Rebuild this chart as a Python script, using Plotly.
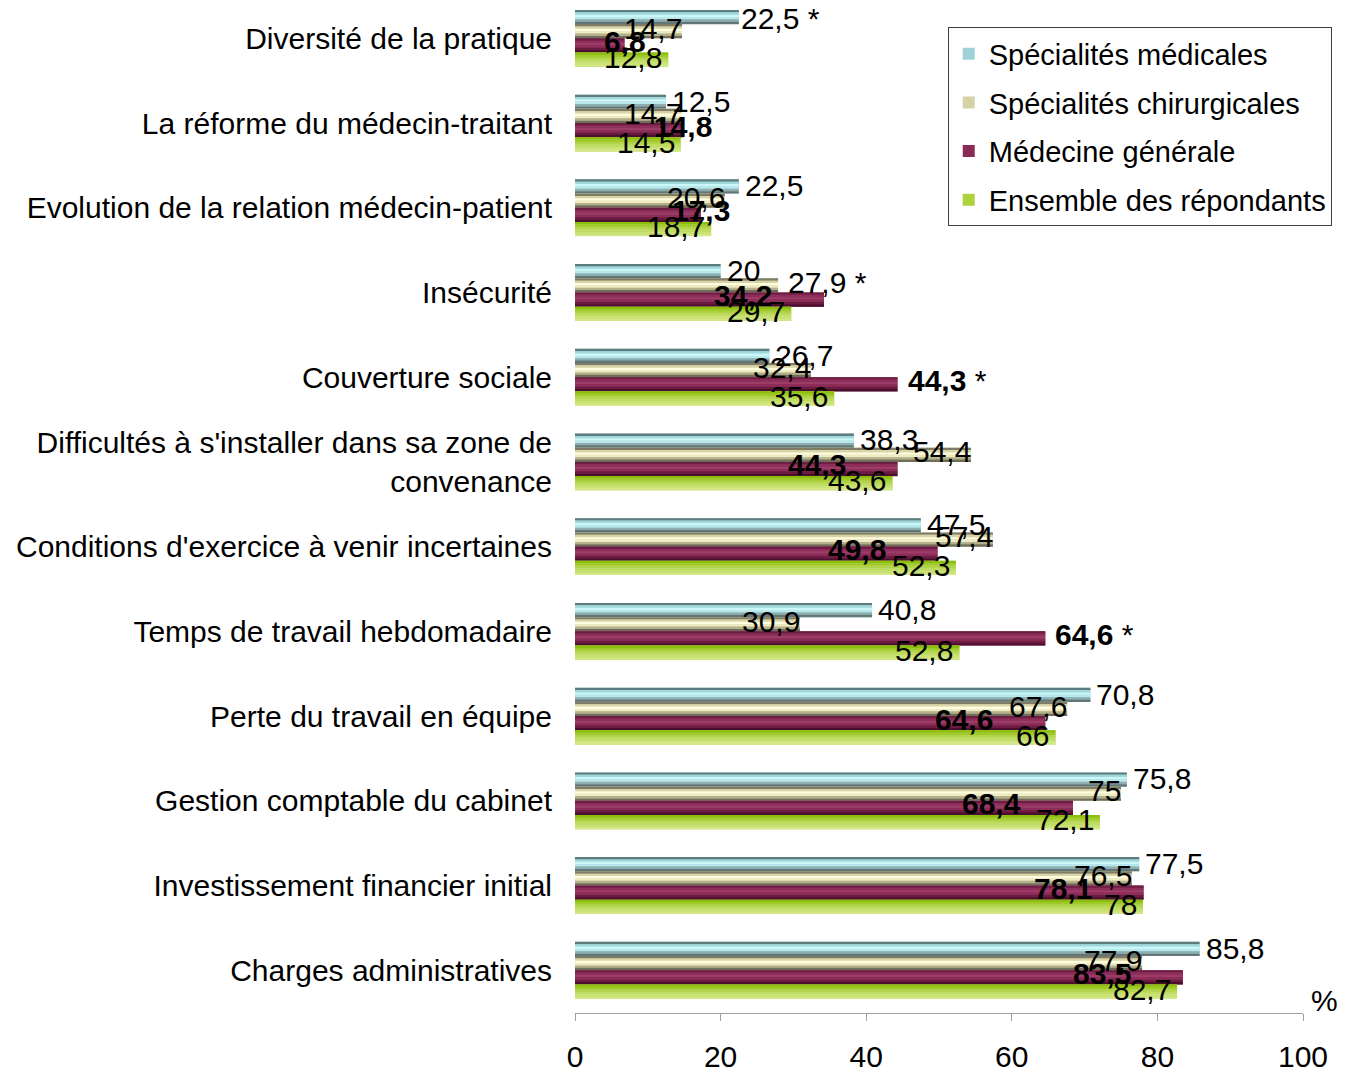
import plotly.graph_objects as go

categories = [
    "Diversité de la pratique",
    "La réforme du médecin-traitant",
    "Evolution de la relation médecin-patient",
    "Insécurité",
    "Couverture sociale",
    "Difficultés à s'installer dans sa zone de<br>convenance",
    "Conditions d'exercice à venir incertaines",
    "Temps de travail hebdomadaire",
    "Perte du travail en équipe",
    "Gestion comptable du cabinet",
    "Investissement financier initial",
    "Charges administratives",
]
series_names = [
    "Spécialités médicales",
    "Spécialités chirurgicales",
    "Médecine générale",
    "Ensemble des répondants",
]
spec_med = [22.5, 12.5, 22.5, 20, 26.7, 38.3, 47.5, 40.8, 70.8, 75.8, 77.5, 85.8]
spec_chir = [14.7, 14.7, 20.6, 27.9, 32.4, 54.4, 57.4, 30.9, 67.6, 75, 76.5, 77.9]
med_gen = [6.8, 14.8, 17.3, 34.2, 44.3, 44.3, 49.8, 64.6, 64.6, 68.4, 78.1, 83.5]
ensemble = [12.8, 14.5, 18.7, 29.7, 35.6, 43.6, 52.3, 52.8, 66, 72.1, 78, 82.7]
# significance stars: (series index, category index)
stars = [(0, 0), (1, 3), (2, 4), (2, 7)]
x_ticks = [0, 20, 40, 60, 80, 100]

values = [spec_med, spec_chir, med_gen, ensemble]
base_colors = ["#9ED2D6", "#D6D2A6", "#8A2A56", "#ADD23C"]
band_colors = [
    ["#5E7C7E", "#A0D8DC", "#CBF7F9", "#B8E8EC", "#8EAEB0", "#627677"],
    ["#7E7C66", "#D8D4A8", "#FFFDE0", "#EEEAC2", "#B4B08C", "#706E5A"],
    ["#6E1E44", "#8E2E5A", "#9C3C68", "#8C2C58", "#6C1C42", "#4C0E2E"],
    ["#8CBE0C", "#A0CA2C", "#B2D44C", "#C0DC64", "#CBE278", "#D3E786"],
]
FONT = "Liberation Sans, Arial, sans-serif"
FS = 30

group_w = 0.67
bar_w = group_w / 4
n_b = len(band_colors[0])
band_w = bar_w / n_b

fig = go.Figure()
for i, (name, vals) in enumerate(zip(series_names, values)):
    off = -group_w / 2 + i * bar_w
    fig.add_trace(go.Bar(
        x=vals, y=categories, orientation="h", name=name,
        marker=dict(color=base_colors[i], line=dict(width=0)),
        offset=off, width=bar_w, legendgroup=name, hoverinfo="skip",
    ))
    for b, c in enumerate(band_colors[i]):
        fig.add_trace(go.Bar(
            x=vals, y=categories, orientation="h", showlegend=False,
            marker=dict(color=c, line=dict(width=0)),
            offset=off + b * band_w, width=band_w * 1.02,
            legendgroup=name, hoverinfo="skip",
        ))

# label placement style per series
yshifts = [22, 10, -3, -19]
anchors = ["left", "right", "right", "right"]
xshifts = [4, 2, -50, -4]
annotations = []
for i, vals in enumerate(values):
    for j, v in enumerate(vals):
        txt = f"{v:g}".replace(".", ",")
        if i == 2:
            txt = f"<b>{txt}</b>"
        anchor, xs = anchors[i], xshifts[i]
        if i == 2 and v < 20:
            anchor, xs = "center", 0
        if (i, j) in stars:
            txt += " *"
            anchor, xs = "left", 8 if i > 0 else 0
        annotations.append(dict(
            x=v, y=categories[j], xref="x", yref="y", text=txt,
            showarrow=False, xanchor=anchor, yanchor="middle",
            xshift=xs, yshift=min(yshifts[i], 20) if j == 0 else yshifts[i],
            font=dict(family=FONT, size=FS, color="black"),
        ))
annotations.append(dict(
    x=1.03, y=0.012, xref="paper", yref="paper", text="%", showarrow=False,
    xanchor="center", yanchor="middle", font=dict(family=FONT, size=FS, color="black"),
))

fig.update_layout(
    width=1354, height=1073,
    margin=dict(l=575, r=51, t=0, b=54),
    paper_bgcolor="white", plot_bgcolor="white",
    barmode="overlay",
    font=dict(family=FONT, size=FS, color="black"),
    showlegend=True,
    legend=dict(
        x=0.512, y=0.973, xanchor="left", yanchor="top",
        bordercolor="#404040", borderwidth=1, bgcolor="white",
        font=dict(family=FONT, size=29, color="black"),
        tracegroupgap=8, traceorder="grouped",
    ),
    annotations=annotations,
    xaxis=dict(
        range=[0, 100], tickvals=x_ticks, ticktext=[str(t) for t in x_ticks],
        showgrid=False, zeroline=False, showline=True, linecolor="#A0A0A0",
        ticks="outside", ticklen=7, tickcolor="#A0A0A0",
        ticklabelstandoff=10,
        tickfont=dict(family=FONT, size=FS, color="black"),
    ),
    yaxis=dict(
        categoryorder="array", categoryarray=categories,
        range=[11.505, -0.452], showgrid=False, zeroline=False, showline=False,
        ticks="", ticklabelstandoff=22,
        tickfont=dict(family=FONT, size=FS, color="black"),
    ),
)

fig.write_html(
    "out.html",
    config={"displayModeBar": False},
    post_script="document.body.style.margin='0';",
)
